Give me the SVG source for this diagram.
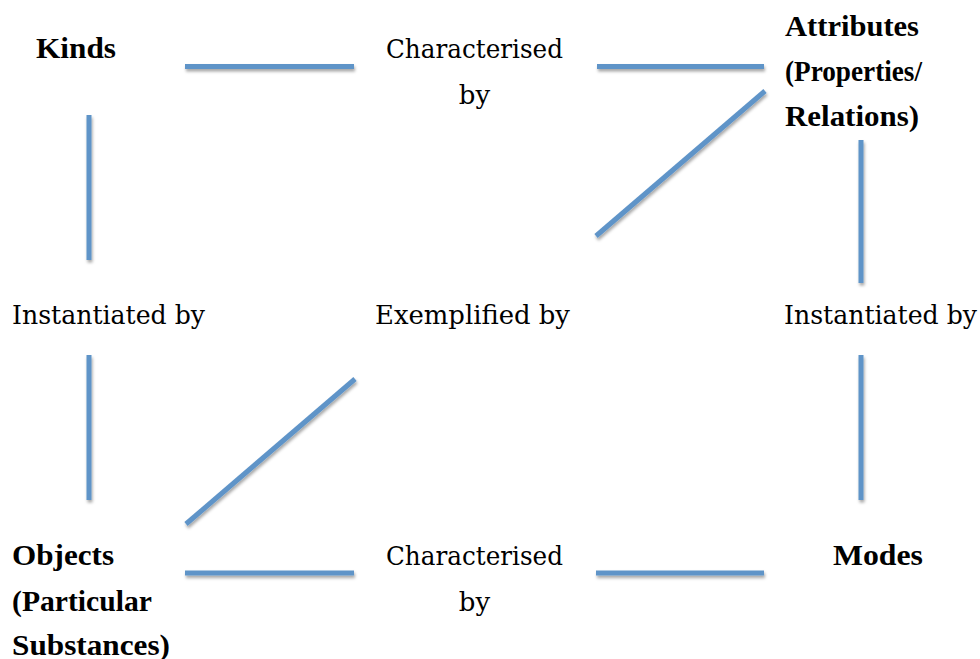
<svg xmlns="http://www.w3.org/2000/svg" width="980" height="659" viewBox="0 0 980 659">
<style>
.t{font-family:"DejaVu Serif","Liberation Serif",serif;font-size:26px;fill:#000;}
.b{font-family:"Liberation Serif","DejaVu Serif",serif;font-weight:bold;font-size:29px;}
.c{text-anchor:middle;}
.ln{stroke:#5f94c8;stroke-width:5;stroke-linecap:butt;fill:none;}
</style>
<defs>
<filter id="sh" x="-20%" y="-20%" width="140%" height="140%">
<feDropShadow dx="1" dy="2.5" stdDeviation="1.5" flood-color="#000" flood-opacity="0.35"/>
</filter>
</defs>
<rect width="980" height="659" fill="#fff"/>
<g id="connectors" class="ln" filter="url(#sh)">
<line x1="185" y1="66.5" x2="354" y2="66.5"/>
<line x1="597" y1="66.5" x2="764" y2="66.5"/>
<line x1="596" y1="236" x2="765" y2="91"/>
<line x1="89" y1="115" x2="89" y2="260"/>
<line x1="861" y1="140" x2="861" y2="283"/>
<line x1="89" y1="355" x2="89" y2="500"/>
<line x1="861" y1="355" x2="861" y2="500"/>
<line x1="186" y1="524" x2="355" y2="379"/>
<line x1="185" y1="573" x2="354" y2="573"/>
<line x1="596" y1="573" x2="764" y2="573"/>
</g>
<g id="kinds"><text class="t b" x="36" y="58" textLength="80" lengthAdjust="spacingAndGlyphs">Kinds</text></g>
<g id="characterised-top">
<text class="t" x="386" y="58" textLength="177" lengthAdjust="spacingAndGlyphs">Characterised</text>
<text class="t c" x="474.5" y="104">by</text>
</g>
<g id="attributes">
<text class="t b" x="785" y="36" textLength="134" lengthAdjust="spacingAndGlyphs">Attributes</text>
<text class="t b" x="785" y="81" textLength="137" lengthAdjust="spacingAndGlyphs">(Properties/</text>
<text class="t b" x="785" y="126" textLength="134" lengthAdjust="spacingAndGlyphs">Relations)</text>
</g>
<g id="instantiated-left"><text class="t" x="12" y="324" textLength="193" lengthAdjust="spacingAndGlyphs">Instantiated by</text></g>
<g id="exemplified"><text class="t" x="375" y="324" textLength="195" lengthAdjust="spacingAndGlyphs">Exemplified by</text></g>
<g id="instantiated-right"><text class="t" x="784" y="324" textLength="193" lengthAdjust="spacingAndGlyphs">Instantiated by</text></g>
<g id="objects">
<text class="t b" x="12" y="565" textLength="102" lengthAdjust="spacingAndGlyphs">Objects</text>
<text class="t b" x="12" y="611" textLength="140" lengthAdjust="spacingAndGlyphs">(Particular</text>
<text class="t b" x="12" y="655" textLength="158" lengthAdjust="spacingAndGlyphs">Substances)</text>
</g>
<g id="characterised-bottom">
<text class="t" x="386" y="565" textLength="177" lengthAdjust="spacingAndGlyphs">Characterised</text>
<text class="t c" x="474.5" y="611">by</text>
</g>
<g id="modes"><text class="t b" x="833" y="565" textLength="90" lengthAdjust="spacingAndGlyphs">Modes</text></g>
</svg>
